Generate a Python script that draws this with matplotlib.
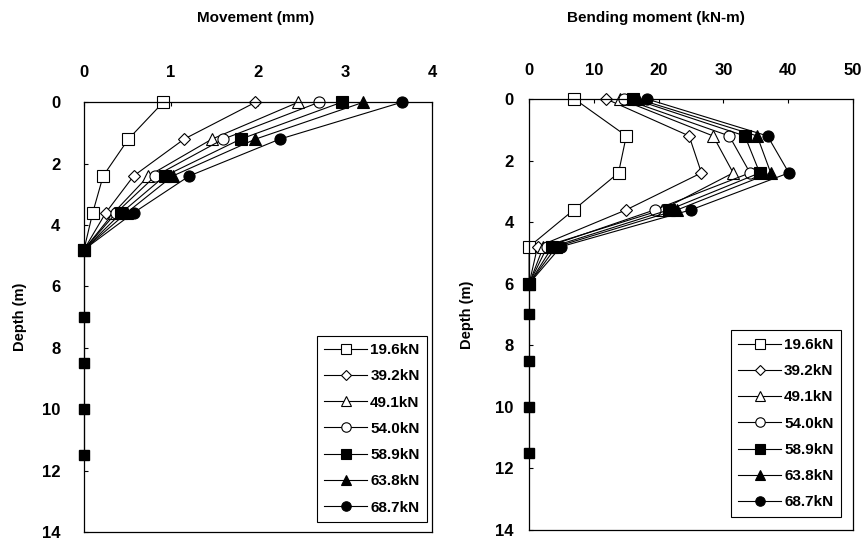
import matplotlib
matplotlib.use('Agg')
import matplotlib.pyplot as plt

plt.rcParams['font.family'] = ['Liberation Sans', 'DejaVu Sans']
plt.rcParams['font.weight'] = 'bold'

loads = ['19.6kN', '39.2kN', '49.1kN', '54.0kN', '58.9kN', '63.8kN', '68.7kN']

# movement (mm) vs depth (m)
depth_mv = [0, 1.2, 2.4, 3.6, 4.8]
mv_196 = [0.91, 0.51, 0.22, 0.10, 0.0]
mv_392 = [1.97, 1.15, 0.57, 0.25, 0.0]
mv_491 = [2.46, 1.47, 0.74, 0.34, 0.0]
mv_540 = [2.70, 1.60, 0.82, 0.37, 0.0]
mv_589 = [2.96, 1.80, 0.93, 0.43, 0.0]
mv_638 = [3.21, 1.97, 1.02, 0.49, 0.0]
mv_687 = [3.65, 2.25, 1.21, 0.57, 0.0]
depth_mv_deep = [4.8, 7.0, 8.5, 10.0, 11.5]
mv_deep = [0.0, 0.0, 0.0, 0.0, 0.0]

# bending moment (kN-m) vs depth (m)
depth_bm = [0, 1.2, 2.4, 3.6, 4.8, 6.0]
bm_196 = [7.0, 15.0, 13.8, 6.9, 0.0, 0.0]
bm_392 = [11.9, 24.7, 26.6, 15.0, 1.3, 0.0]
bm_491 = [14.0, 28.4, 31.5, 20.5, 2.2, 0.0]
bm_540 = [14.7, 30.9, 34.1, 19.4, 2.8, 0.0]
bm_589 = [16.1, 33.3, 35.6, 21.6, 3.6, 0.0]
bm_638 = [16.8, 35.2, 37.3, 22.9, 4.2, 0.0]
bm_687 = [18.2, 36.8, 40.1, 25.0, 4.9, 0.0]
depth_bm_deep = [6.0, 7.0, 8.5, 10.0, 11.5]
bm_deep = [0.0, 0.0, 0.0, 0.0, 0.0]

mv = [mv_196, mv_392, mv_491, mv_540, mv_589, mv_638, mv_687]
bm = [bm_196, bm_392, bm_491, bm_540, bm_589, bm_638, bm_687]
styles = [('s', 'white'), ('D', 'white'), ('^', 'white'), ('o', 'white'),
          ('s', 'black'), ('^', 'black'), ('o', 'black')]
msizes = [8, 6, 8, 8, 8, 8, 8]

fig = plt.figure(figsize=(8.66, 5.44), dpi=100)
ax1 = fig.add_axes([0.097, 0.022, 0.402, 0.790])
ax2 = fig.add_axes([0.611, 0.026, 0.374, 0.792])


def draw(ax, depth, data, deep_d, deep_v):
    for i in range(7):
        m, fc = styles[i]
        ax.plot(data[i], depth, '-', color='black', lw=0.8, marker=m,
                mfc=fc, mec='black', ms=msizes[i], mew=0.8, label=loads[i],
                clip_on=False)
    ax.plot(deep_v, deep_d, '-', color='black', lw=0.8, marker='s',
            mfc='black', mec='black', ms=7, clip_on=False)
    ax.set_ylim(14, 0)
    ax.set_yticks([0, 2, 4, 6, 8, 10, 12, 14])
    ax.xaxis.tick_top()
    ax.tick_params(direction='in', length=3, width=0.8, labelsize=12)
    for s in ax.spines.values():
        s.set_linewidth(0.9)
    ax.set_ylabel('Depth (m)', fontsize=10.5, fontweight='bold')


draw(ax1, depth_mv, mv, depth_mv_deep, mv_deep)
ax1.set_xlim(0, 4)
ax1.set_xticks([0, 1, 2, 3, 4])
ax1.tick_params(axis='x', pad=16)
ax1.tick_params(axis='y', pad=17)
ax1.yaxis.set_label_coords(-0.165, 0.5)

draw(ax2, depth_bm, bm, depth_bm_deep, bm_deep)
ax2.set_xlim(0, 50)
ax2.set_xticks([0, 10, 20, 30, 40, 50])
ax2.tick_params(axis='x', pad=15)
ax2.tick_params(axis='y', pad=11)
ax2.yaxis.set_label_coords(-0.17, 0.5)

for ax in (ax1, ax2):
    for t in ax.get_xticklabels() + ax.get_yticklabels():
        t.set_fontweight('bold')

for ax, xy in [(ax1, (0.986, 0.023)), (ax2, (0.963, 0.03))]:
    leg = ax.legend(loc='lower right', bbox_to_anchor=xy, fancybox=False,
                    edgecolor='black', framealpha=1, fontsize=11,
                    handlelength=2.8, handletextpad=0.2, labelspacing=0.8,
                    borderpad=0.5, borderaxespad=0, markerscale=0.85)
    leg.get_frame().set_linewidth(0.8)
    for t in leg.get_texts():
        t.set_fontweight('bold')

fig.text(0.295, 0.967, 'Movement (mm)', ha='center', va='center',
         fontsize=11, fontweight='bold')
fig.text(0.757, 0.967, 'Bending moment (kN-m)', ha='center', va='center',
         fontsize=11, fontweight='bold')

fig.savefig('out.png', dpi=100)
